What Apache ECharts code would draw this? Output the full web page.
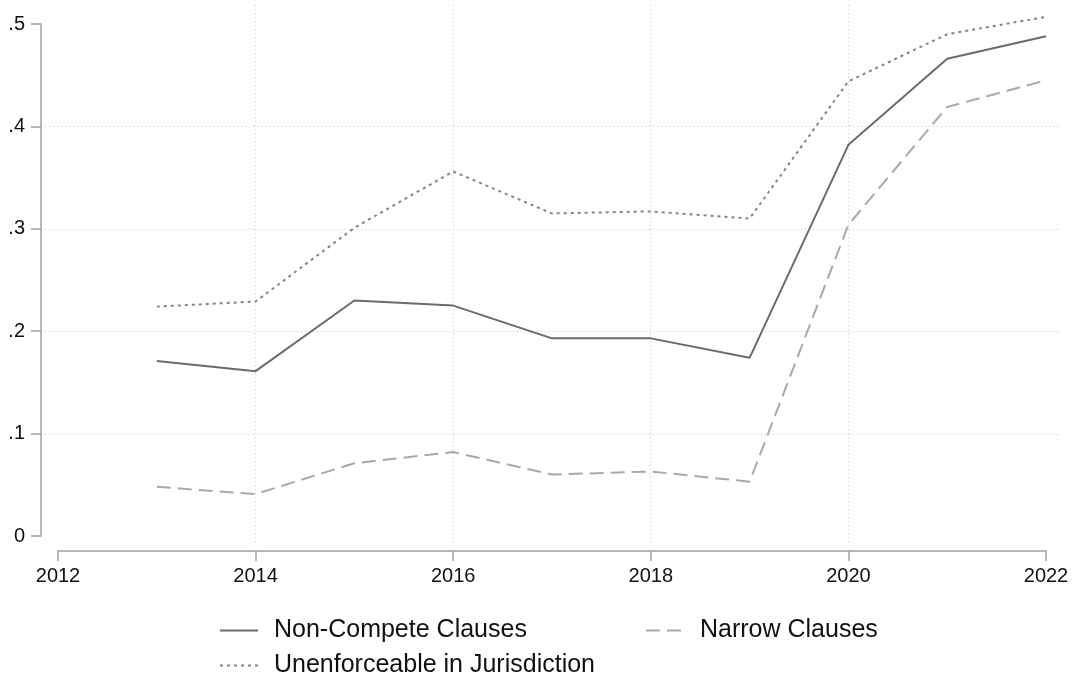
<!DOCTYPE html>
<html>
<head>
<meta charset="utf-8">
<script src="https://cdn.jsdelivr.net/npm/echarts@6/dist/echarts.min.js"></script>
<style>
  html, body { margin: 0; padding: 0; background: #fff; }
  #main { width: 1073px; height: 677px; }
</style>
</head>
<body>
<div id="main"></div>
<script>
// values
const years = [2013, 2014, 2015, 2016, 2017, 2018, 2019, 2020, 2021, 2022];
const nonCompete = [0.171, 0.161, 0.230, 0.225, 0.193, 0.193, 0.174, 0.382, 0.466, 0.488];
const unenforceable = [0.224, 0.229, 0.301, 0.356, 0.315, 0.317, 0.310, 0.444, 0.490, 0.507];
const narrow = [0.048, 0.041, 0.071, 0.082, 0.060, 0.063, 0.053, 0.304, 0.419, 0.445];
const xTicks = [2012, 2014, 2016, 2018, 2020, 2022];
const yTicks = [0, 0.1, 0.2, 0.3, 0.4, 0.5];

const myChart = echarts.init(document.getElementById('main'));
const font = 'Liberation Sans, Arial, Helvetica, sans-serif';

const pairs = arr => years.map((y, i) => [y, arr[i]]);
const yFmt = v => (v === 0 ? '0' : String(+v.toFixed(1)).replace(/^0/, ''));

// grid 0 holds the data and the visible axes, grid 1 only the (wider) dotted grid lines
const myGrid = [
  { left: 58, top: 24, width: 988, height: 512 },
  { left: 45, top: 5, right: 12, bottom: 132 }
];

const gridLine = { show: true, lineStyle: { color: '#c4c4c4', width: 1, type: [1, 3] } };

const myXAxis = [
  {
    type: 'value', gridIndex: 0, min: 2012, max: 2022, interval: 2, offset: 15,
    axisLine: { show: true, onZero: false, lineStyle: { color: '#a0a0a0', width: 1.5 } },
    axisTick: { show: true, length: 10, lineStyle: { color: '#a0a0a0', width: 1.5 } },
    axisLabel: { color: '#111', fontSize: 20, fontFamily: font, margin: 15, formatter: v => String(v) },
    splitLine: { show: false }
  },
  {
    type: 'value', gridIndex: 1,
    min: 2012 - 12.7 / 98.8, max: 2022 + 15.3 / 98.8,
    axisLine: { show: false },
    axisTick: { show: false, customValues: xTicks },
    axisLabel: { show: false, customValues: xTicks },
    splitLine: Object.assign({ showMinLine: false, showMaxLine: false }, gridLine)
  }
];

const myYAxis = [
  {
    type: 'value', gridIndex: 0, min: 0, max: 0.5, interval: 0.1, offset: 17,
    axisLine: { show: true, onZero: false, lineStyle: { color: '#a0a0a0', width: 1.5 } },
    axisTick: { show: true, length: 10, lineStyle: { color: '#a0a0a0', width: 1.5 } },
    axisLabel: { color: '#111', fontSize: 20, fontFamily: font, margin: 16, formatter: yFmt },
    splitLine: { show: false }
  },
  {
    type: 'value', gridIndex: 1,
    min: -(545 - 536.3) / 1024, max: 0.5 + (24.3 - 5) / 1024,
    axisLine: { show: false },
    axisTick: { show: false, customValues: yTicks },
    axisLabel: { show: false, customValues: yTicks },
    splitLine: Object.assign({ showMinLine: false, showMaxLine: false }, gridLine)
  }
];

const lineSeries = (name, data, color, type) => ({
  name: name,
  type: 'line',
  xAxisIndex: 0,
  yAxisIndex: 0,
  data: pairs(data),
  symbol: 'none',
  clip: false,
  z: 3,
  lineStyle: { color: color, width: 2, type: type },
  itemStyle: { color: color }
});

const mySeries = [
  lineSeries('Non-Compete Clauses', nonCompete, '#6b6b6b', 'solid'),
  lineSeries('Unenforceable in Jurisdiction', unenforceable, '#858585', [3, 4]),
  lineSeries('Narrow Clauses', narrow, '#a9a9a9', [14, 7])
];

const legendBase = {
  padding: 0,
  itemWidth: 38, itemHeight: 14, itemGap: 13,
  itemStyle: { opacity: 0 },
  textStyle: { color: '#111', fontSize: 25, fontFamily: font, padding: [0, 0, 0, 11] }
};

myChart.setOption({
  animation: false,
  grid: myGrid,
  xAxis: myXAxis,
  yAxis: myYAxis,
  series: mySeries,
  legend: [
    Object.assign({ data: ['Non-Compete Clauses'], left: 219, top: 618 }, legendBase),
    Object.assign({ data: ['Narrow Clauses'], left: 645, top: 618 }, legendBase),
    Object.assign({ data: ['Unenforceable in Jurisdiction'], left: 219, top: 653 }, legendBase)
  ]
});
</script>
</body>
</html>
